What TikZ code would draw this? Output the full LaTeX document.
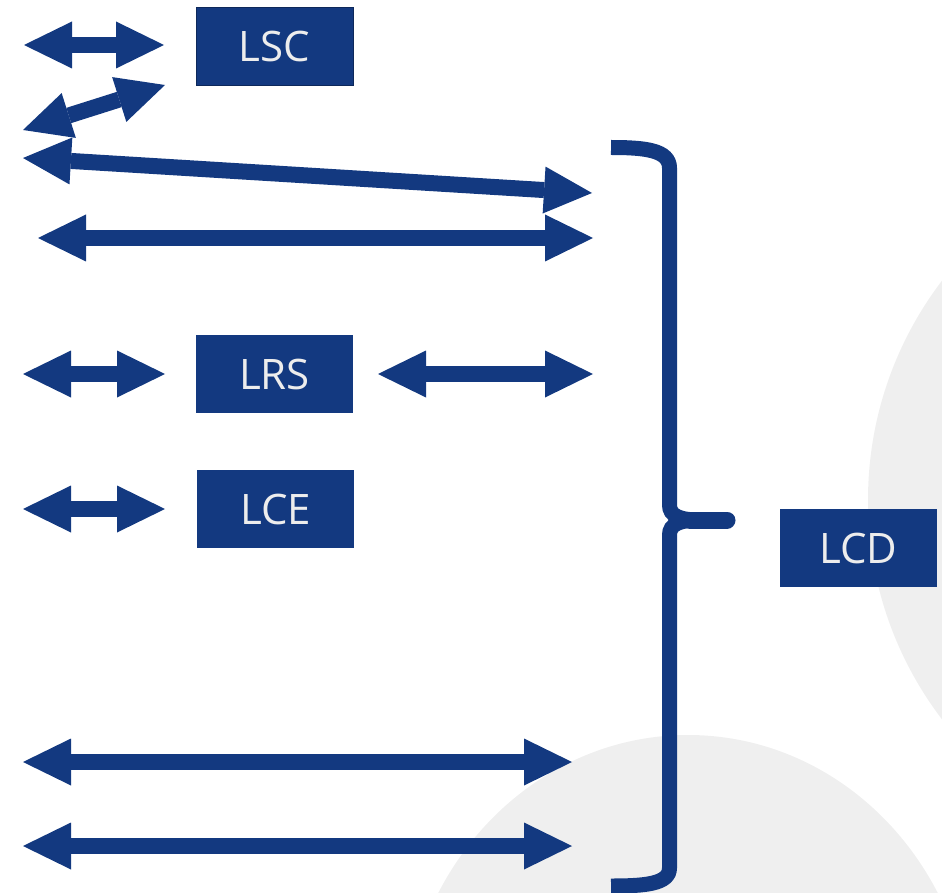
\documentclass[tikz,border=0pt]{standalone}
\usepackage{fontspec}
\setmainfont{Open Sans}
\usetikzlibrary{arrows.meta}

\definecolor{lblue}{RGB}{19,57,128}
\definecolor{bggray}{RGB}{239,239,239}

\tikzset{
	lbox/.style={fill=lblue, text=white!93!black, minimum width=157pt, minimum height=78pt, inner sep=0pt, font=\fontsize{42}{50}\selectfont},
	twoway/.style={draw=lblue, line width=16pt, {Triangle[width=47pt,length=48pt,line width=0pt]}-{Triangle[width=47pt,length=48pt,line width=0pt]}},
	brace/.style={draw=lblue, line width=15pt}
}

\begin{document}
\begin{tikzpicture}[x=1pt,y=-1pt]
				\useasboundingbox (0,0) rectangle (942,893);
				
				% background shapes
				\begin{scope}
					\clip (0,0) rectangle (942,893);
					\fill[bggray] (1230,500) circle (362);
					\fill[bggray] (688,1040) ellipse (285 and 305);
				\end{scope}
				
				\node[lbox, draw=lblue!70!black, line width=1pt] (lsc) at (274.5,46.5) {LSC};
				\node[lbox] (lrs) at (274.5,374) {LRS};
				\node[lbox] (lce) at (275.5,509) {LCE};
				\node[lbox] (lcd) at (858.5,548) {LCD};
				
				\coordinate (r1a) at (24,45);
				\coordinate (r1b) at (164,45);
				\coordinate (r2a) at (23,130);
				\coordinate (r2b) at (165,85);
				\coordinate (r3a) at (23,158);
				\coordinate (r3b) at (592,193);
				\coordinate (r4a) at (38,238);
				\coordinate (r4b) at (593,238);
				\coordinate (r5a) at (23,374);
				\coordinate (r5b) at (165,374);
				\coordinate (r5c) at (378,374);
				\coordinate (r5d) at (593,374);
				\coordinate (r6a) at (23,509);
				\coordinate (r6b) at (165,509);
				\coordinate (r7a) at (23,762);
				\coordinate (r7b) at (572,762);
				\coordinate (r8a) at (23,846);
				\coordinate (r8b) at (572,846);
				
				\draw[twoway] (r1a) -- (r1b);
				\draw[twoway] (r2a) -- (r2b);
				\draw[twoway] (r3a) -- (r3b);
				\draw[twoway] (r4a) -- (r4b);
				\draw[twoway] (r5a) -- (r5b);
				\draw[twoway] (r5c) -- (r5d);
				\draw[twoway] (r6a) -- (r6b);
				\draw[twoway] (r7a) -- (r7b);
				\draw[twoway] (r8a) -- (r8b);
				
				% brace
				\draw[brace] (611,147.5) .. controls (645,147.5) and (669.5,150) .. (669.5,168) -- (669.5,505)
					.. controls (669.5,516) and (680,520) .. (700,520);
				\draw[brace] (611,886) .. controls (645,886) and (669.5,884) .. (669.5,868) -- (669.5,535)
					.. controls (669.5,524) and (680,520) .. (700,520);
				\draw[brace, line width=17pt, line cap=round] (690,520) -- (727,520);
			\end{tikzpicture}
\end{document}
